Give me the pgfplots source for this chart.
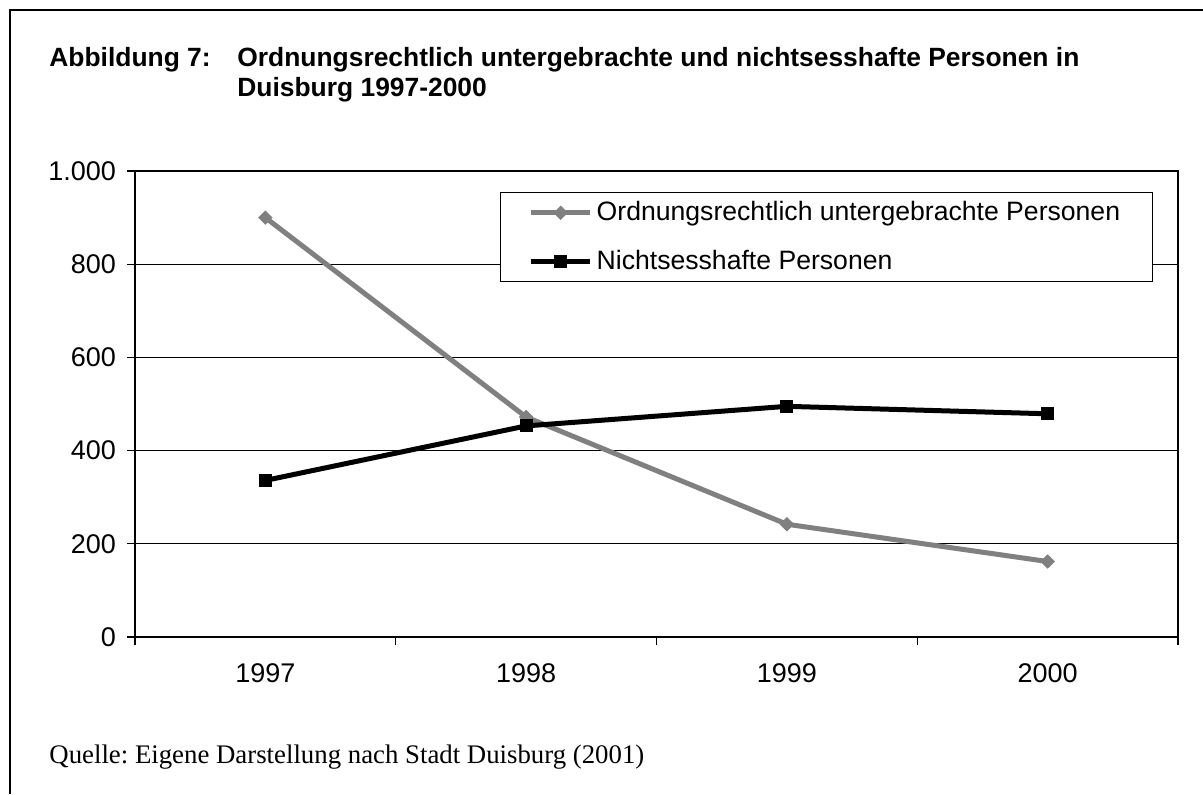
\documentclass[border=0pt]{standalone}
\usepackage{fontspec}
\setmainfont{Liberation Sans}
\newfontfamily\serif{Liberation Serif}
\usepackage{pgfplots}
\pgfplotsset{compat=1.18}
\definecolor{seriesgray}{RGB}{128,128,128}
\frenchspacing

\begin{document}
\begin{tikzpicture}
% canvas 1203x794 px, 1px = 0.5pt
\useasboundingbox (0,0) rectangle (601.5pt,397pt);
\draw[line width=1pt] (5pt,0) -- (5pt,391.75pt) -- (601.5pt,391.75pt);

% title
\node[anchor=base west, inner sep=0, font=\bfseries\fontsize{13.2}{15}\selectfont] at (24.5pt,363.5pt) {Abbildung 7:};
\node[anchor=base west, inner sep=0, font=\bfseries\fontsize{13.2}{15}\selectfont] at (118.5pt,363.5pt) {Ordnungsrechtlich untergebrachte und nichtsesshafte Personen in};
\node[anchor=base west, inner sep=0, font=\bfseries\fontsize{13.2}{15}\selectfont] at (118.5pt,348.5pt) {Duisburg 1997-2000};

% source
\node[anchor=base west, inner sep=0, font=\serif\fontsize{13.4}{15}\selectfont] at (24.5pt,15.5pt) {Quelle: Eigene Darstellung nach Stadt Duisburg (2001)};

\begin{axis}[
  at={(67.5pt,78.5pt)}, anchor=south west,
  width=521.5pt, height=233pt, scale only axis,
  xmin=0.5, xmax=4.5, ymin=0, ymax=1000,
  xtick={1,2,3,4}, xticklabels={1997,1998,1999,2000},
  minor xtick={0.5,1.5,2.5,3.5,4.5},
  major x tick style={draw=none},
  ytick={0,200,...,1000},
  tick align=outside, tick pos=left,
  major tick length=4pt, minor tick length=4pt,
  ymajorgrids, grid style={black, line width=0.65pt},
  axis line style={black, line width=0.65pt},
  tick style={black, line width=0.65pt},
  ticklabel style={font=\fontsize{13.5}{16}\selectfont},
  xticklabel style={yshift=-6pt},
  yticklabel style={xshift=-2pt},
  /pgf/number format/1000 sep={.},
  /pgf/number format/assume math mode=true,
  legend style={at={(0.35,0.955)}, anchor=north west, draw=black, line width=0.65pt,
    font=\fontsize{13.3}{16}\selectfont, inner xsep=14pt, inner ysep=2.5pt, row sep=9pt},
  legend cell align=left,
  legend image code/.code={\draw[mark repeat=2,mark phase=2,#1] plot coordinates {(0pt,0pt) (14.75pt,0pt) (29.5pt,0pt)};},
]
\addplot[seriesgray, line width=2.5pt, mark=square*, mark size=2.3pt,
  mark options={rotate=45, fill=seriesgray, draw=seriesgray, line width=0.5pt}]
  coordinates {(1,900) (2,472) (3,242) (4,162)};
\addlegendentry{Ordnungsrechtlich untergebrachte Personen}
\addplot[black, line width=2.5pt, mark=square*, mark size=3pt,
  mark options={fill=black, draw=black, line width=0.5pt}]
  coordinates {(1,336) (2,453) (3,495) (4,479)};
\addlegendentry{Nichtsesshafte Personen}
\end{axis}
\end{tikzpicture}
\end{document}
